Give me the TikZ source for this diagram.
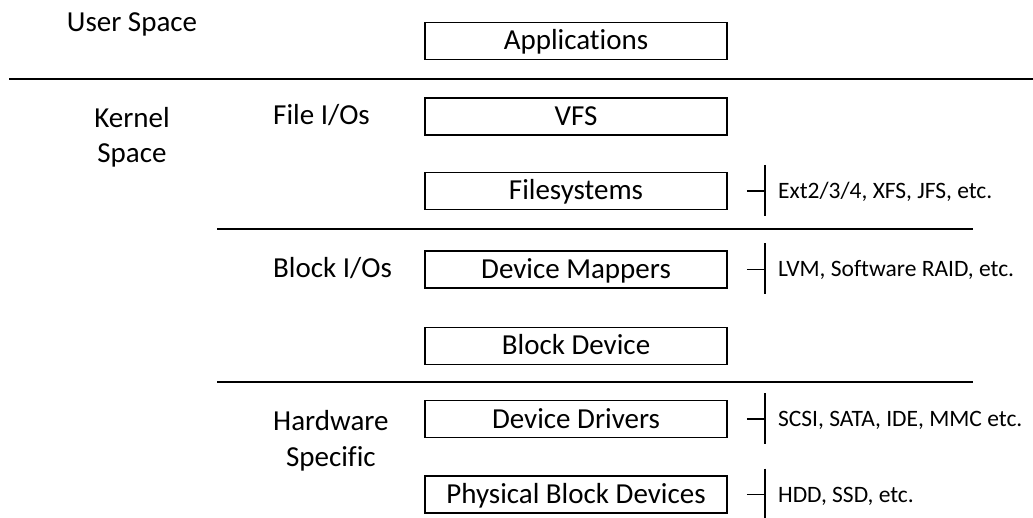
\documentclass[tikz,border=0pt]{standalone}
\usepackage{fontspec}
\setmainfont{Carlito}[Ligatures=NoCommon]
\newcommand\layerfont{\fontsize{29}{35}\selectfont}
\newcommand\notefont{\fontsize{23.5}{28}\selectfont}
\begin{document}
\begin{tikzpicture}[x=1pt,y=-1pt,
  layer/.style={draw, line width=1.8pt, minimum width=302pt, minimum height=37pt,
    inner sep=0pt, text height=18pt, text depth=0pt, font=\layerfont},
  lbl/.style={inner sep=0pt, font=\layerfont},
  note/.style={inner sep=0pt, anchor=west, text height=15pt, text depth=0pt, font=\notefont},
  rule/.style={line width=2pt},
  tick/.style={line width=1.8pt}]
\useasboundingbox (0,0) rectangle (1033,518);

% stack of layers
\node[layer] (app) at (576,41)    {Applications};
\node[layer] (vfs) at (576,116.5) {VFS};
\node[layer] (fs)  at (576,191)   {Filesystems};
\node[layer] (dm)  at (576,269.5) {Device Mappers};
\node[layer] (bd)  at (576,346)   {Block Device};
\node[layer] (dd)  at (576,419)   {Device Drivers};
\node[layer] (pbd) at (576,494.5) {Physical Block Devices};

% separators
\coordinate (r1a) at (9,79);    \coordinate (r1b) at (1033,79);
\coordinate (r2a) at (217,229); \coordinate (r2b) at (973,229);
\coordinate (r3a) at (217,382); \coordinate (r3b) at (973,382);
\draw[rule] (r1a) -- (r1b);
\draw[rule] (r2a) -- (r2b);
\draw[rule] (r3a) -- (r3b);

% space labels
\node[lbl, anchor=base] (user)   at (132,32)  {User Space};
\node[lbl, anchor=base] (kernel) at (132,128) {Kernel};
\node[lbl, anchor=base] (kspace) at (132,163) {Space};

% group labels
\node[lbl, anchor=base west] (fileio)  at (273,125) {File I/Os};
\node[lbl, anchor=base west] (blockio) at (273,278) {Block I/Os};
\node[lbl, anchor=base west] (hw)      at (273,430) {Hardware};
\node[lbl, anchor=base] (hwspec) at ([yshift=-36pt]hw.base) {Specific};

% side notes with their brackets
\draw[tick] ([xshift=19pt]fs.east) -- ++(18,0) coordinate (fs-b);
\draw[tick] ([yshift=26pt]fs-b) -- ([yshift=-25pt]fs-b);
\node[note] (fs-note) at ([xshift=13pt]fs-b) {Ext2/3/4, XFS, JFS, etc.};

\draw[tick] ([xshift=19pt]dm.east) -- ++(18,0) coordinate (dm-b);
\draw[tick] ([yshift=26pt]dm-b) -- ([yshift=-25pt]dm-b);
\node[note] (dm-note) at ([xshift=13pt]dm-b) {LVM, Software RAID, etc.};

\draw[tick] ([xshift=19pt]dd.east) -- ++(18,0) coordinate (dd-b);
\draw[tick] ([yshift=26pt]dd-b) -- ([yshift=-25pt]dd-b);
\node[note] (dd-note) at ([xshift=13pt]dd-b) {SCSI, SATA, IDE, MMC etc.};

\draw[tick] ([xshift=19pt]pbd.east) -- ++(18,0) coordinate (pbd-b);
\draw[tick] ([yshift=26pt]pbd-b) -- ([yshift=-25pt]pbd-b);
\node[note] (pbd-note) at ([xshift=13pt]pbd-b) {HDD, SSD, etc.};
\end{tikzpicture}
\end{document}
